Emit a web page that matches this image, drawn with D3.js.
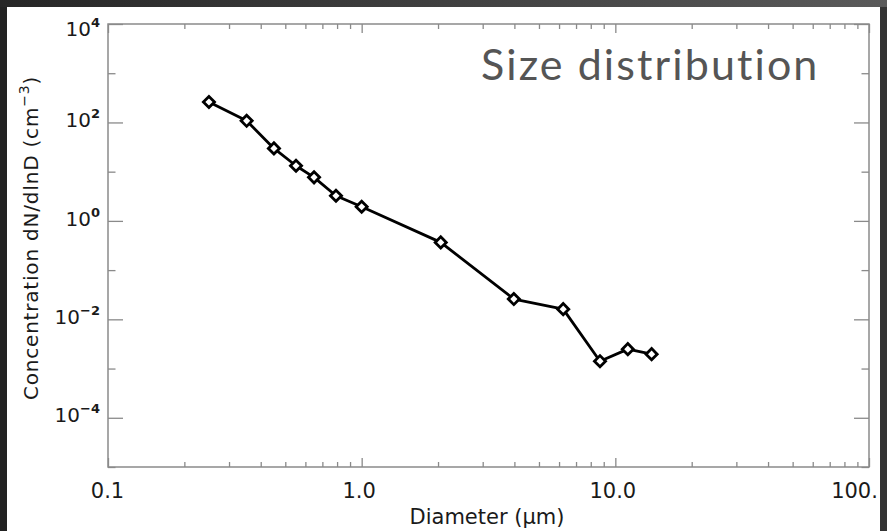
<!DOCTYPE html>
<html>
<head>
<meta charset="utf-8">
<script src="https://cdn.jsdelivr.net/npm/d3@7"></script>
<style>
  html, body { margin: 0; padding: 0; background: #2a2a2a; }
  svg { display: block; }
  text { font-variant-ligatures: none; }
</style>
</head>
<body>
<svg id="chart" width="887" height="531"></svg>
<script>
// ---- data ----
const diameters      = [0.25, 0.352, 0.451, 0.551, 0.649, 0.792, 1.0, 2.05, 3.98, 6.23, 8.7, 11.2, 13.9];
const concentrations = [260, 108, 29.7, 13.2, 7.66, 3.24, 1.94, 0.366, 0.0258, 0.0161, 0.00141, 0.00248, 0.00196];
const xMajorTicks  = [0.1, 1, 10, 100];
const xTickLabels  = ["0.1", "1.0", "10.0", "100."];
const yMajorExps   = [4, 2, 0, -2, -4];
const yMinorExps   = [3, 1, -1, -3, -5];
const titleText    = "Size distribution";
const xAxisTitle   = "Diameter (μm)";
const yAxisTitle   = "Concentration dN/dlnD (cm";

// ---- layout ----
const W = 887, H = 531;
const L = 108, R = 869, T = 24, B = 467;

const svg = d3.select("#chart");
const defs = svg.append("defs");
const grad = defs.append("linearGradient").attr("id", "bg").attr("x1", "0").attr("y1", "0").attr("x2", "1").attr("y2", "0");
grad.append("stop").attr("offset", "0").attr("stop-color", "#262626");
grad.append("stop").attr("offset", "1").attr("stop-color", "#5a5a5a");
svg.append("rect").attr("width", W).attr("height", H).attr("fill", "url(#bg)");
svg.append("rect").attr("x", 0).attr("y", 7).attr("width", 7).attr("height", H).attr("fill", "#222");
svg.append("rect").attr("x", 878).attr("y", 7).attr("width", 9).attr("height", H).attr("fill", "#333");
svg.append("rect").attr("x", 7).attr("y", 7).attr("width", 873).attr("height", H - 7).attr("fill", "#ffffff");

const x = d3.scaleLog().domain([0.1, 100]).range([L, R]);
const y = d3.scaleLog().domain([1e-5, 1e4]).range([B, T]);

const axisColor = "#8a8a8a";
const font = "'DejaVu Sans', sans-serif";

// minor x ticks (2..9 per decade)
const xMinor = [];
for (let dec = 0.1; dec < 100; dec *= 10) {
  for (let k = 2; k <= 9; k++) xMinor.push(+(dec * k).toPrecision(3));
}

function styleAxis(g) {
  g.select(".domain").remove();
  g.selectAll(".tick line").attr("stroke", axisColor).attr("stroke-width", 1.3);
}

// bottom axis: minor, major
svg.append("g").attr("transform", `translate(0,${B})`)
  .call(d3.axisBottom(x).tickValues(xMinor).tickSize(-5).tickFormat(""))
  .call(styleAxis);
const xb = svg.append("g").attr("transform", `translate(0,${B})`)
  .call(d3.axisBottom(x).tickValues(xMajorTicks).tickSize(-9).tickPadding(16)
        .tickFormat((d, i) => xTickLabels[i]))
  .call(styleAxis);
xb.selectAll(".tick text").attr("font-family", font).attr("font-size", 21).attr("fill", "#1a1a1a")
  .attr("dx", (d, i) => i === xMajorTicks.length - 1 ? -15 : (i === 0 ? -1 : -3));

// top axis
svg.append("g").attr("transform", `translate(0,${T})`)
  .call(d3.axisTop(x).tickValues(xMinor).tickSize(-5).tickFormat(""))
  .call(styleAxis);
svg.append("g").attr("transform", `translate(0,${T})`)
  .call(d3.axisTop(x).tickValues(xMajorTicks).tickSize(-9).tickFormat(""))
  .call(styleAxis);

// left axis
svg.append("g").attr("transform", `translate(${L},0)`)
  .call(d3.axisLeft(y).tickValues(yMinorExps.map(e => Math.pow(10, e))).tickSize(-7.5).tickFormat(""))
  .call(styleAxis);
const yl = svg.append("g").attr("transform", `translate(${L},0)`)
  .call(d3.axisLeft(y).tickValues(yMajorExps.map(e => Math.pow(10, e))).tickSize(-15).tickFormat(""))
  .call(styleAxis);
yl.selectAll(".tick").each(function(d, i) {
  const g = d3.select(this);
  const t = g.append("text")
    .attr("x", -8).attr("dy", i === 0 ? "1.1em" : "0.42em")
    .attr("text-anchor", "end")
    .attr("font-family", font).attr("fill", "#1a1a1a");
  t.append("tspan").attr("font-size", 20).text("10");
  const e = yMajorExps[i];
  t.append("tspan").attr("font-size", 13).attr("font-weight", "bold").attr("dy", -9)
    .text(e < 0 ? "−" + Math.abs(e) : String(e));
});

// right axis
svg.append("g").attr("transform", `translate(${R},0)`)
  .call(d3.axisRight(y).tickValues(yMinorExps.map(e => Math.pow(10, e))).tickSize(-7.5).tickFormat(""))
  .call(styleAxis);
svg.append("g").attr("transform", `translate(${R},0)`)
  .call(d3.axisRight(y).tickValues(yMajorExps.map(e => Math.pow(10, e))).tickSize(-15).tickFormat(""))
  .call(styleAxis);

// frame
svg.append("rect").attr("x", L).attr("y", T).attr("width", R - L).attr("height", B - T)
  .attr("fill", "none").attr("stroke", axisColor).attr("stroke-width", 1.5);

// axis titles
svg.append("text").attr("x", 487).attr("y", 524)
  .attr("text-anchor", "middle").attr("font-family", font).attr("font-size", 21).attr("fill", "#1a1a1a")
  .text(xAxisTitle);

const yt = svg.append("text")
  .attr("transform", `translate(38,238) rotate(-90)`)
  .attr("text-anchor", "middle").attr("font-family", font).attr("font-size", 20)
  .attr("letter-spacing", 0.8).attr("fill", "#1a1a1a");
yt.append("tspan").text(yAxisTitle);
yt.append("tspan").attr("font-size", 14).attr("dy", -9).text("−3");
yt.append("tspan").attr("dy", 9).text(")");

// title
svg.append("text").attr("x", 481).attr("y", 80)
  .attr("font-family", "Lato, sans-serif").attr("font-size", 43).attr("letter-spacing", 2.1).attr("fill", "#555")
  .text(titleText);

// data line
const pts = diameters.map((d, i) => [d, concentrations[i]]);
svg.append("path").datum(pts)
  .attr("fill", "none").attr("stroke", "#000").attr("stroke-width", 2.8).attr("stroke-linejoin", "round")
  .attr("d", d3.line().x(d => x(d[0])).y(d => y(d[1])));

// diamond markers
const sym = d3.symbol().type(d3.symbolSquare).size(62);
svg.append("g").selectAll("path.m").data(pts).join("path")
  .attr("class", "m")
  .attr("transform", d => `translate(${x(d[0])},${y(d[1])}) rotate(45)`)
  .attr("d", sym())
  .attr("fill", "#fff").attr("stroke", "#000").attr("stroke-width", 2.8);
</script>
</body>
</html>
